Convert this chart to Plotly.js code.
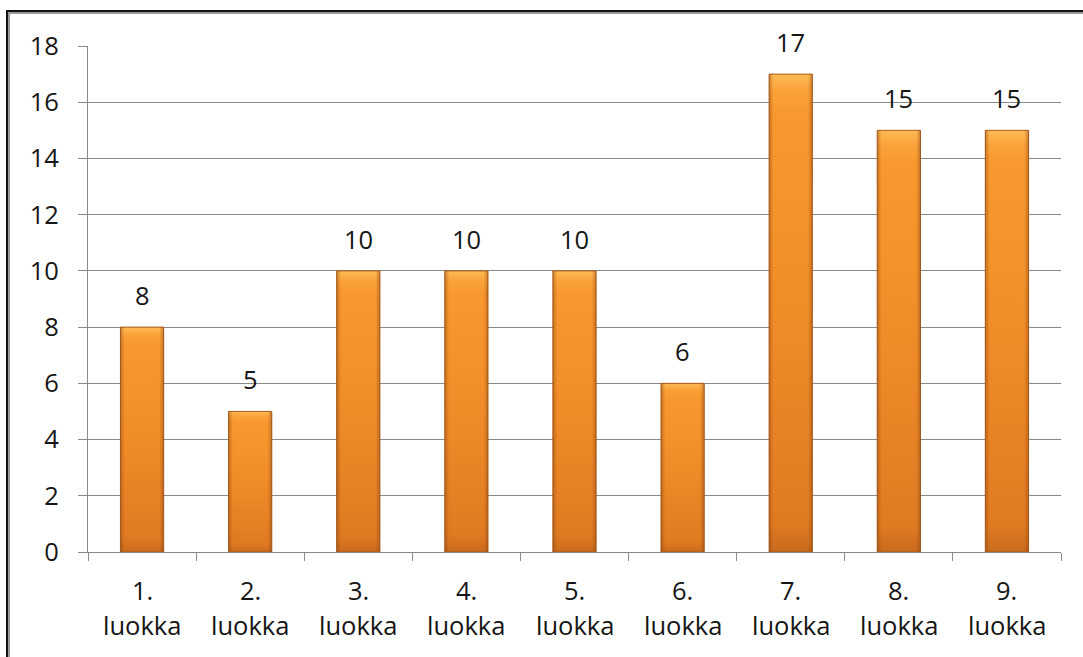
<!DOCTYPE html>
<html>
<head>
<meta charset="utf-8">
<script src="https://cdn.plot.ly/plotly-3.0.1.min.js"></script>
<style>
  html, body { margin: 0; padding: 0; background: #fff; }
  #wrap { position: relative; width: 1083px; height: 657px; overflow: hidden; }
  #chart { width: 1083px; height: 657px; }
  /* chart frame: dark outer line with a grey inner line */
  #frame {
    position: absolute; left: 6px; top: 10px; width: 1200px; height: 800px;
    border-top: 2px solid #111; border-left: 2px solid #111;
    box-shadow: inset 2px 2px 0 #9a9a9a;
    pointer-events: none;
  }
</style>
</head>
<body>
<div id="wrap">
  <div id="chart"></div>
  <div id="frame"></div>
</div>
<script>
// Number of pupils per grade
const gradeNumbers = ["1.", "2.", "3.", "4.", "5.", "6.", "7.", "8.", "9."];
const gradeWord = "luokka";
const counts = [8, 5, 10, 10, 10, 6, 17, 15, 15];
const yTicks = [0, 2, 4, 6, 8, 10, 12, 14, 16, 18];

const categories = gradeNumbers.map(n => n + " " + gradeWord);
const fontFamily = "'Open Sans', 'DejaVu Sans', sans-serif";
const fontSize = 25.5;
const textColor = "#161616";
const gridColor = "#8a8a8a";

const trace = {
  type: "bar",
  x: categories,
  y: counts,
  marker: { color: "#F39029", line: { color: "#A85A1A", width: 1 } },
  hoverinfo: "x+y"
};

const annotations = [];
categories.forEach((c, i) => {
  // value above each bar
  annotations.push({
    x: c, y: counts[i], xref: "x", yref: "y",
    text: String(counts[i]), showarrow: false,
    yanchor: "bottom", yshift: 13,
    font: { family: fontFamily, size: fontSize, color: textColor }
  });
  // two-line category label under the axis
  annotations.push({
    x: c, y: 0, xref: "x", yref: "paper",
    text: gradeNumbers[i], showarrow: false,
    yanchor: "middle", yshift: -38,
    font: { family: fontFamily, size: fontSize, color: textColor }
  });
  annotations.push({
    x: c, y: 0, xref: "x", yref: "paper",
    text: gradeWord, showarrow: false,
    yanchor: "middle", yshift: -73,
    font: { family: fontFamily, size: fontSize, color: textColor }
  });
});

const layout = {
  width: 1083, height: 657,
  margin: { l: 88, r: 22, t: 46, b: 105 },
  paper_bgcolor: "#fff", plot_bgcolor: "#fff",
  showlegend: false,
  bargap: 0.6,
  font: { family: fontFamily, size: fontSize, color: textColor },
  xaxis: {
    type: "category",
    range: [-0.5, 8.5],
    showticklabels: false,
    ticks: "outside", tickson: "boundaries", ticklen: 8,
    tickcolor: gridColor, tickwidth: 1,
    showline: true, linecolor: gridColor, linewidth: 1,
    showgrid: false, zeroline: false, fixedrange: true
  },
  yaxis: {
    range: [0, 18],
    tickvals: yTicks,
    ticktext: yTicks.map(String),
    ticks: "outside", ticklen: 9, tickcolor: gridColor, tickwidth: 1,
    ticklabelstandoff: 14,
    tickfont: { family: fontFamily, size: fontSize, color: textColor },
    showline: true, linecolor: gridColor, linewidth: 1,
    showgrid: true, gridcolor: gridColor, gridwidth: 1,
    zeroline: false, fixedrange: true
  },
  annotations: annotations
};

function addGradient(defs, id, horizontal, stops) {
  const ns = "http://www.w3.org/2000/svg";
  const g = document.createElementNS(ns, "linearGradient");
  g.setAttribute("id", id);
  g.setAttribute("x1", "0"); g.setAttribute("y1", "0");
  g.setAttribute("x2", horizontal ? "1" : "0");
  g.setAttribute("y2", horizontal ? "0" : "1");
  stops.forEach(([o, c, a]) => {
    const s = document.createElementNS(ns, "stop");
    s.setAttribute("offset", o);
    s.setAttribute("stop-color", c);
    s.setAttribute("stop-opacity", a === undefined ? 1 : a);
    g.appendChild(s);
  });
  defs.appendChild(g);
}

Plotly.newPlot("chart", [trace], layout, { displayModeBar: false, staticPlot: true }).then(gd => {
  // bevelled orange shading on the bars
  const ns = "http://www.w3.org/2000/svg";
  const svg = gd.querySelector("svg.main-svg");
  let defs = svg.querySelector("defs");
  if (!defs) { defs = document.createElementNS(ns, "defs"); svg.insertBefore(defs, svg.firstChild); }
  addGradient(defs, "barShade", false, [
    ["0", "#FDBB55"], ["0.035", "#FBA23A"], ["0.08", "#F8982F"],
    ["0.5", "#F08C28"], ["0.94", "#E07A22"], ["1", "#C96A1D"]
  ]);
  addGradient(defs, "barEdges", true, [
    ["0", "#8A4510", 0.45], ["0.1", "#8A4510", 0.0],
    ["0.9", "#8A4510", 0.0], ["1", "#8A4510", 0.45]
  ]);
  gd.querySelectorAll(".bars .point path").forEach(p => {
    p.style.fill = "url(#barShade)";
    const edge = p.cloneNode(false);
    edge.style.fill = "url(#barEdges)";
    edge.style.stroke = "none";
    p.parentNode.appendChild(edge);
  });
});
</script>
</body>
</html>
